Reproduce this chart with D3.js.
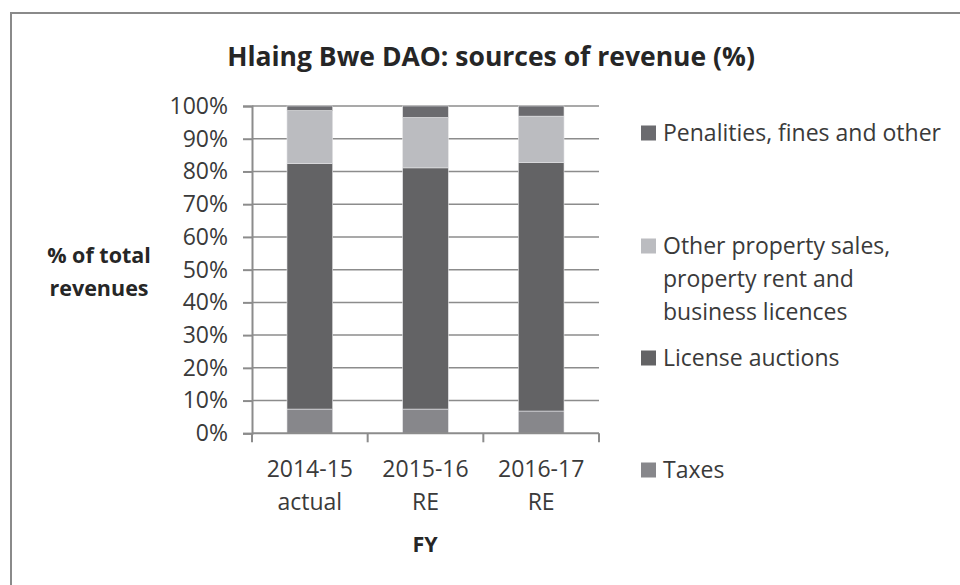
<!DOCTYPE html>
<html>
<head>
  <script src="https://d3js.org/d3.v7.min.js"></script>
  <style>
    body { margin: 0; background: #fff; }
    text { font-family: "Open Sans", sans-serif; fill: #3a3a3a; }
  </style>
</head>
<body>
<svg id="chart"></svg>
<script>
  var width = 960;
  var height = 585;

  // data (% of total revenues)
  const years = ["2014-15 actual", "2015-16 RE", "2016-17 RE"];
  const taxes = [7.4, 7.4, 6.8];
  const licenseAuctions = [75.0, 73.7, 75.9];
  const otherProperty = [16.2, 15.4, 14.2];
  const penalties = [1.4, 3.5, 3.1];
  const seriesNames = ["Taxes", "License auctions",
    "Other property sales, property rent and business licences", "Penalities, fines and other"];
  const yTicks = [0, 10, 20, 30, 40, 50, 60, 70, 80, 90, 100];

  const colors = ["#87878b", "#636365", "#bbbcc0", "#6b6b6f"];

  var rows = years.map((y, i) => ({
    year: y,
    "Taxes": taxes[i],
    "License auctions": licenseAuctions[i],
    "Other property sales, property rent and business licences": otherProperty[i],
    "Penalities, fines and other": penalties[i]
  }));

  var svg = d3.select("#chart")
    .attr("width", width)
    .attr("height", height);

  // chart frame (only top and left edges show)
  svg.append("path")
    .attr("d", "M11,585 V13 H960")
    .attr("fill", "none")
    .attr("stroke", "#8a8a8a")
    .attr("stroke-width", 2);

  var x = d3.scaleBand()
    .domain(years)
    .range([252, 599])
    .paddingInner(0.605)
    .paddingOuter(0.3025);

  var y = d3.scaleLinear()
    .domain([0, 100])
    .range([433.3, 106]);

  var gridColor = "#8c8c8c";

  // gridlines
  svg.append("g")
    .selectAll("line")
    .data(yTicks.filter(d => d > 0))
    .enter()
    .append("line")
    .attr("x1", 252)
    .attr("x2", 599)
    .attr("y1", d => y(d))
    .attr("y2", d => y(d))
    .attr("stroke", gridColor)
    .attr("stroke-width", 1.5);

  var stack = d3.stack().keys(seriesNames);
  var layers = stack(rows);

  svg.append("g")
    .selectAll("g")
    .data(layers)
    .enter()
    .append("g")
    .attr("fill", (d, i) => colors[i])
    .selectAll("rect")
    .data(d => d)
    .enter()
    .append("rect")
    .attr("x", d => x(d.data.year))
    .attr("width", x.bandwidth())
    .attr("y", d => y(d[1]))
    .attr("height", d => y(d[0]) - y(d[1]))
    .attr("stroke", "#e4e4e6")
    .attr("stroke-width", 0.6);

  // y axis
  var yAxis = svg.append("g")
    .attr("transform", "translate(252,0)")
    .call(d3.axisLeft(y).tickValues(yTicks).tickFormat(d => d + "%").tickSize(9).tickPadding(15));
  yAxis.select(".domain").attr("stroke", gridColor).attr("stroke-width", 2);
  yAxis.selectAll(".tick line").attr("stroke", gridColor).attr("stroke-width", 2);
  yAxis.selectAll(".tick text")
    .style("font-family", "'Open Sans', sans-serif")
    .style("font-size", "23px")
    .attr("fill", "#3a3a3a");

  // x axis with ticks between categories
  svg.append("line")
    .attr("x1", 252).attr("x2", 599)
    .attr("y1", y(0)).attr("y2", y(0))
    .attr("stroke", gridColor).attr("stroke-width", 2);
  svg.append("g")
    .selectAll("line")
    .data(d3.range(years.length + 1))
    .enter()
    .append("line")
    .attr("x1", i => 252 + i * x.step())
    .attr("x2", i => 252 + i * x.step())
    .attr("y1", y(0))
    .attr("y2", y(0) + 9)
    .attr("stroke", gridColor)
    .attr("stroke-width", 2);

  svg.append("g")
    .selectAll("text")
    .data(years)
    .enter()
    .append("text")
    .attr("text-anchor", "middle")
    .attr("x", d => x(d) + x.bandwidth() / 2)
    .style("font-size", "23px")
    .each(function(d) {
      var parts = d.split(" ");
      d3.select(this).append("tspan").attr("x", x(d) + x.bandwidth() / 2).attr("y", 477).text(parts[0]);
      d3.select(this).append("tspan").attr("x", x(d) + x.bandwidth() / 2).attr("y", 510).text(parts[1]);
    });

  // title
  svg.append("text")
    .attr("x", 491)
    .attr("y", 66)
    .attr("text-anchor", "middle")
    .style("font-size", "26.5px")
    .style("font-weight", "bold")
    .style("fill", "#262626")
    .text("Hlaing Bwe DAO: sources of revenue (%)");

  // axis titles
  var yTitle = svg.append("text")
    .attr("text-anchor", "middle")
    .style("font-size", "21.5px")
    .style("font-weight", "bold")
    .style("fill", "#262626");
  yTitle.append("tspan").attr("x", 99).attr("y", 263).text("% of total");
  yTitle.append("tspan").attr("x", 99).attr("y", 296).text("revenues");

  svg.append("text")
    .attr("x", 425)
    .attr("y", 552)
    .attr("text-anchor", "middle")
    .style("font-size", "21.5px")
    .style("font-weight", "bold")
    .style("fill", "#262626")
    .text("FY");

  // legend, top entry first
  var legendItems = [
    { lines: ["Penalities, fines and other"], y: 133, color: colors[3] },
    { lines: ["Other property sales,", "property rent and", "business licences"], y: 246, color: colors[2] },
    { lines: ["License auctions"], y: 358, color: colors[1] },
    { lines: ["Taxes"], y: 470, color: colors[0] }
  ];

  var legend = svg.append("g");
  legendItems.forEach(function(item) {
    legend.append("rect")
      .attr("x", 641)
      .attr("y", item.y - 7.5)
      .attr("width", 15)
      .attr("height", 15)
      .attr("fill", item.color);
    var t = legend.append("text")
      .style("font-size", "23px");
    item.lines.forEach(function(line, j) {
      t.append("tspan")
        .attr("x", 663)
        .attr("y", item.y + 8 + j * 33)
        .text(line);
    });
  });
</script>
</body>
</html>
